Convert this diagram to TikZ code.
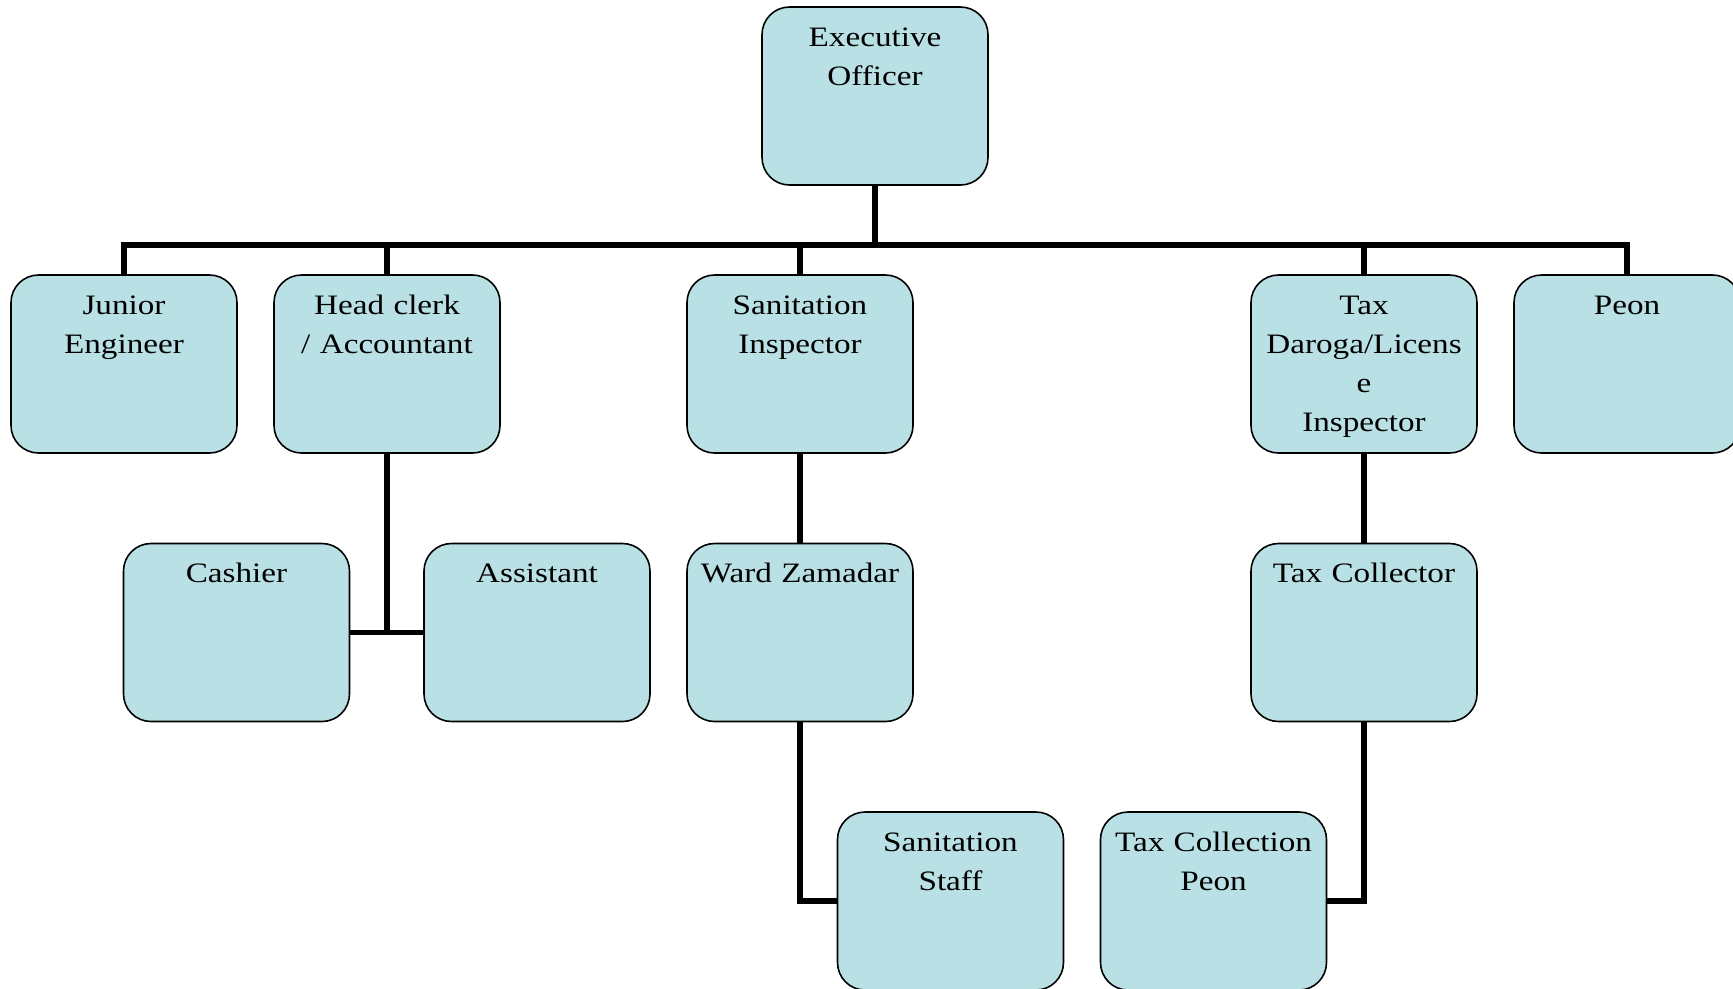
\documentclass[tikz,border=0pt]{standalone}
\usepackage{fontspec}
\setmainfont{Liberation Serif}[FakeStretch=1.18]
\definecolor{boxblue}{RGB}{185,224,228}
\tikzset{
    post/.style={draw, line width=0.9pt, rounded corners=0.55cm, fill=boxblue,
        minimum width=4.52cm, text width=4.3cm, align=center,
        inner xsep=0.1cm, inner ysep=0pt, text height=0.78cm, text depth=2.78cm,
        font=\fontsize{16}{22.2}\selectfont},
    link/.style={line width=3pt}
}
\begin{document}
\begin{tikzpicture}
        \path[use as bounding box] (0,0) rectangle (34.66,-19.76);
        \clip (0,0) rectangle (34.66,-19.76);

        \node[post] (exec) at (17.5,-1.92) {Executive\\Officer};

        \node[post] (jun) at (2.48,-7.28) {Junior\\Engineer};
        \node[post] (head) at (7.74,-7.28) {Head clerk\\/ Accountant};
        \node[post] (sani) at (16,-7.28) {Sanitation\\Inspector};
        \node[post] (tax) at (27.28,-7.28) {Tax\\Daroga/Licens\\e\\Inspector};
        \node[post] (peon) at (32.54,-7.28) {Peon};

        \node[post] (cash) at (4.73,-12.65) {Cashier};
        \node[post] (asst) at (10.74,-12.65) {Assistant};
        \node[post] (ward) at (16,-12.65) {Ward Zamadar};
        \node[post] (coll) at (27.28,-12.65) {Tax Collector};

        \node[post] (staff) at (19.01,-18.02) {Sanitation\\Staff};
        \node[post] (tpeon) at (24.27,-18.02) {Tax Collection\\Peon};

        \coordinate (bus) at (17.5,-4.9);
        \draw[link] (exec.south) -- (bus);
        \draw[link] (jun.north) |- (bus) -| (peon.north);
        \draw[link] (head.north) -- (head.north |- bus);
        \draw[link] (sani.north) -- (sani.north |- bus);
        \draw[link] (tax.north) -- (tax.north |- bus);

        \draw[link] (head.south) -- (head.south |- cash.east);
        \draw[link] (cash.east) -- (asst.west);
        \draw[link] (sani.south) -- (ward.north);
        \draw[link] (ward.south) |- (staff.west);
        \draw[link] (tax.south) -- (coll.north);
        \draw[link] (coll.south) |- (tpeon.east);
    \end{tikzpicture}
\end{document}
